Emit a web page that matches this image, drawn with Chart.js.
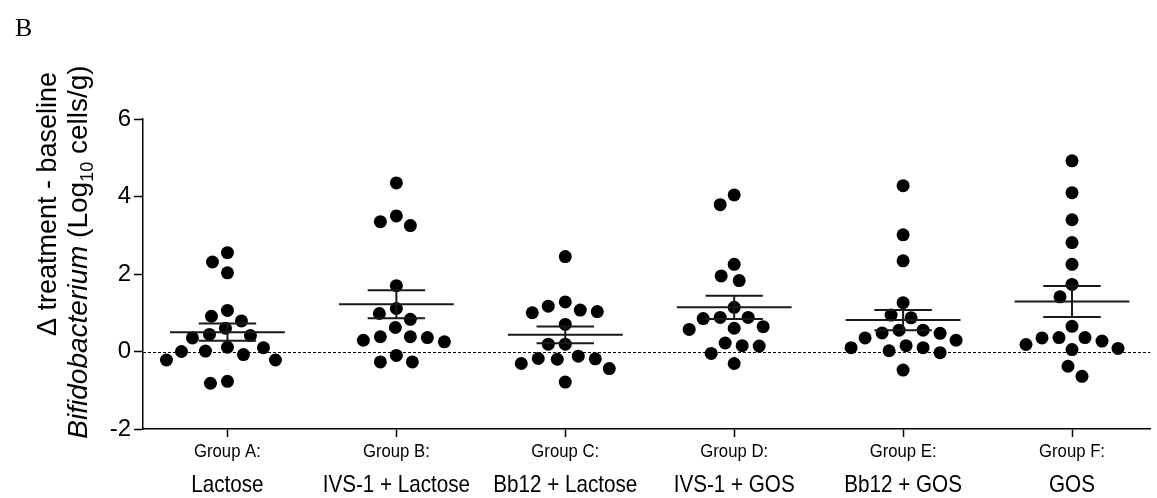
<!DOCTYPE html>
<html>
<head>
<meta charset="utf-8">
<script src="https://cdn.jsdelivr.net/npm/chart.js@4.4.1/dist/chart.umd.min.js"></script>
<style>
  html, body { margin: 0; padding: 0; background: #fff; }
  #wrap { width: 1157px; height: 498px; }
</style>
</head>
<body>
<div id="wrap"><canvas id="chart" width="1157" height="498"></canvas></div>
<script>
const groupNames = ['Group A:', 'Group B:', 'Group C:', 'Group D:', 'Group E:', 'Group F:'];
const categories = ['Lactose', 'IVS-1 + Lactose', 'Bb12 + Lactose', 'IVS-1 + GOS', 'Bb12 + GOS', 'GOS'];

// individual subjects
const groupA = [2.55, 2.31, 2.03, 1.06, 0.91, 0.79, 0.60, 0.44, 0.41, 0.35, 0.11, 0.10, 0.01, 0.00, -0.08, -0.22, -0.22, -0.77, -0.82];
const groupB = [4.35, 3.50, 3.35, 3.25, 1.70, 1.11, 0.98, 0.83, 0.62, 0.38, 0.38, 0.36, 0.29, 0.25, -0.10, -0.27, -0.27];
const groupC = [2.45, 1.28, 1.17, 1.07, 1.03, 1.00, 0.70, 0.19, 0.19, -0.12, -0.18, -0.19, -0.20, -0.31, -0.44, -0.79];
const groupD = [4.04, 3.79, 2.25, 1.95, 1.83, 1.14, 0.88, 0.88, 0.85, 0.64, 0.60, 0.57, 0.22, 0.15, 0.14, -0.05, -0.31];
const groupE = [4.28, 3.01, 2.34, 1.26, 0.94, 0.87, 0.55, 0.55, 0.48, 0.47, 0.35, 0.29, 0.15, 0.10, 0.10, 0.02, -0.03, -0.48];
const groupF = [4.92, 4.10, 3.40, 2.81, 2.25, 1.73, 1.41, 0.65, 0.36, 0.36, 0.35, 0.27, 0.18, 0.08, 0.05, -0.38, -0.64];
const groups = [groupA, groupB, groupC, groupD, groupE, groupF];

// mean and SEM bars as drawn
const means = [0.50, 1.22, 0.43, 1.14, 0.81, 1.29];
const sems = [0.22, 0.36, 0.215, 0.30, 0.26, 0.40];

const yTicks = [-2, 0, 2, 4, 6];

const SANS = "'Liberation Sans', Arial, sans-serif";

// simple beeswarm: each dot goes as close to the centre as it fits
function swarmOffsets(values, yScale, unitPx) {
    const placed = [];
    const out = new Array(values.length);
    const order = values.map((v, i) => i).sort((a, b) => values[b] - values[a]);
    const D = 17;
    for (const i of order) {
        const py = yScale.getPixelForValue(values[i]);
        let best = 0;
        for (let k = 0; k < 400; k++) {
            const off = (k % 2 ? -1 : 1) * Math.ceil(k / 2);
            if (placed.every(p => Math.hypot(p.x - off, p.y - py) >= D)) { best = off; break; }
        }
        placed.push({ x: best, y: py });
        out[i] = best / unitPx;
    }
    return out;
}

function drawRun(ctx, cx, cy, parts) {
    ctx.save();
    ctx.translate(cx, cy);
    ctx.rotate(-Math.PI / 2);
    let total = 0;
    parts.forEach(p => { ctx.font = p.font; p.w = ctx.measureText(p.text).width; total += p.w; });
    let xx = -total / 2;
    ctx.textAlign = 'left';
    ctx.textBaseline = 'alphabetic';
    ctx.fillStyle = '#000';
    parts.forEach(p => { ctx.font = p.font; ctx.fillText(p.text, xx, p.dy); xx += p.w; });
    ctx.restore();
}

// narrow text, the axis labels in the figure are condensed
function narrowText(ctx, text, cx, baseY, font, squeeze) {
    ctx.save();
    ctx.translate(cx, baseY);
    ctx.scale(squeeze, 1);
    ctx.font = font;
    ctx.fillText(text, 0, 0);
    ctx.restore();
}

const decor = {
    id: 'decor',
    beforeDatasetsDraw(chart) {
        const { ctx, chartArea, scales: { y } } = chart;
        const y0 = Math.round(y.getPixelForValue(0)) + 0.5;
        ctx.save();
        ctx.strokeStyle = '#000';
        ctx.lineWidth = 1;
        ctx.setLineDash([3, 2]);
        ctx.beginPath();
        ctx.moveTo(chartArea.left, y0);
        ctx.lineTo(chartArea.right, y0);
        ctx.stroke();
        ctx.restore();
    },
    afterDatasetsDraw(chart) {
        const { ctx, scales: { x, y } } = chart;
        ctx.save();
        ctx.strokeStyle = '#1a1a1a';
        ctx.lineWidth = 2;
        means.forEach((m, i) => {
            const cx = x.getPixelForValue(i);
            const half = x.getPixelForValue(i + 0.34) - cx;
            const cap = x.getPixelForValue(i + 0.17) - cx;
            const ym = y.getPixelForValue(m);
            const yt = y.getPixelForValue(m + sems[i]);
            const yb = y.getPixelForValue(m - sems[i]);
            ctx.beginPath();
            ctx.moveTo(cx - half, ym); ctx.lineTo(cx + half, ym);
            ctx.moveTo(cx - cap, yt); ctx.lineTo(cx + cap, yt);
            ctx.moveTo(cx - cap, yb); ctx.lineTo(cx + cap, yb);
            ctx.moveTo(cx, yt); ctx.lineTo(cx, yb);
            ctx.stroke();
        });
        ctx.restore();
    },
    afterDraw(chart) {
        const { ctx, chartArea, scales: { x } } = chart;
        ctx.save();
        ctx.fillStyle = '#000';
        ctx.textAlign = 'center';
        ctx.textBaseline = 'alphabetic';
        categories.forEach((c, i) => {
            const cx = x.getPixelForValue(i);
            narrowText(ctx, groupNames[i], cx, chartArea.bottom + 28, '19px ' + SANS, 0.88);
            narrowText(ctx, c, cx, chartArea.bottom + 63, '24px ' + SANS, 0.86);
        });
        // panel letter
        ctx.textAlign = 'left';
        ctx.font = "26px 'Liberation Serif', 'Times New Roman', serif";
        ctx.fillText('B', 15, 36);
        ctx.restore();

        // y title, two lines
        drawRun(ctx, 46, 204, [
            { text: 'Δ treatment - baseline', font: '27px ' + SANS, dy: 10 }
        ]);
        const f = 28;
        drawRun(ctx, 77, 252, [
            { text: 'Bifidobacterium', font: 'italic ' + f + 'px ' + SANS, dy: 10 },
            { text: ' (Log', font: f + 'px ' + SANS, dy: 10 },
            { text: '10', font: Math.round(f * 0.66) + 'px ' + SANS, dy: 10 + f * 0.22 },
            { text: ' cells/g)', font: f + 'px ' + SANS, dy: 10 }
        ]);
    }
};

const datasets = groups.map((vals, gi) => ({
    label: categories[gi],
    data: vals.map(v => ({ x: gi, y: v })),
    backgroundColor: '#000',
    borderWidth: 0,
    pointRadius: 6.5,
    pointHoverRadius: 6.5
}));

const ctx = document.getElementById('chart').getContext('2d');
const chart = new Chart(ctx, {
    type: 'scatter',
    data: { datasets: datasets },
    options: {
        responsive: false,
        animation: false,
        devicePixelRatio: 1,
        layout: { padding: { top: 119, left: 0, right: 0, bottom: 0 } },
        plugins: { legend: { display: false }, tooltip: { enabled: false } },
        scales: {
            x: {
                type: 'linear',
                min: -0.5,
                max: -0.5 + (1157 - 143) / 170,
                afterBuildTicks: s => { s.ticks = categories.map((c, i) => ({ value: i })); },
                afterFit: s => { s.height = 69; },
                ticks: { display: false },
                grid: { drawOnChartArea: false, drawTicks: true, tickLength: 8, tickColor: '#000', tickWidth: 1.5 },
                border: { display: true, color: '#000', width: 1.5 }
            },
            y: {
                min: -2,
                max: 6,
                afterBuildTicks: s => { s.ticks = yTicks.map(v => ({ value: v })); },
                afterFit: s => { s.width = 143; },
                ticks: { color: '#000', font: { family: SANS, size: 24 }, padding: 3 },
                grid: { drawOnChartArea: false, drawTicks: true, tickLength: 9, tickColor: '#000', tickWidth: 1.5 },
                border: { display: true, color: '#000', width: 1.5 }
            }
        }
    },
    plugins: [decor]
});

// lay out the swarm once the scales know their pixel sizes
const yS = chart.scales.y;
const unit = chart.scales.x.getPixelForValue(1) - chart.scales.x.getPixelForValue(0);
chart.data.datasets.forEach((ds, gi) => {
    const offs = swarmOffsets(groups[gi], yS, unit);
    ds.data = groups[gi].map((v, j) => ({ x: gi + offs[j], y: v }));
});
chart.update('none');
</script>
</body>
</html>
